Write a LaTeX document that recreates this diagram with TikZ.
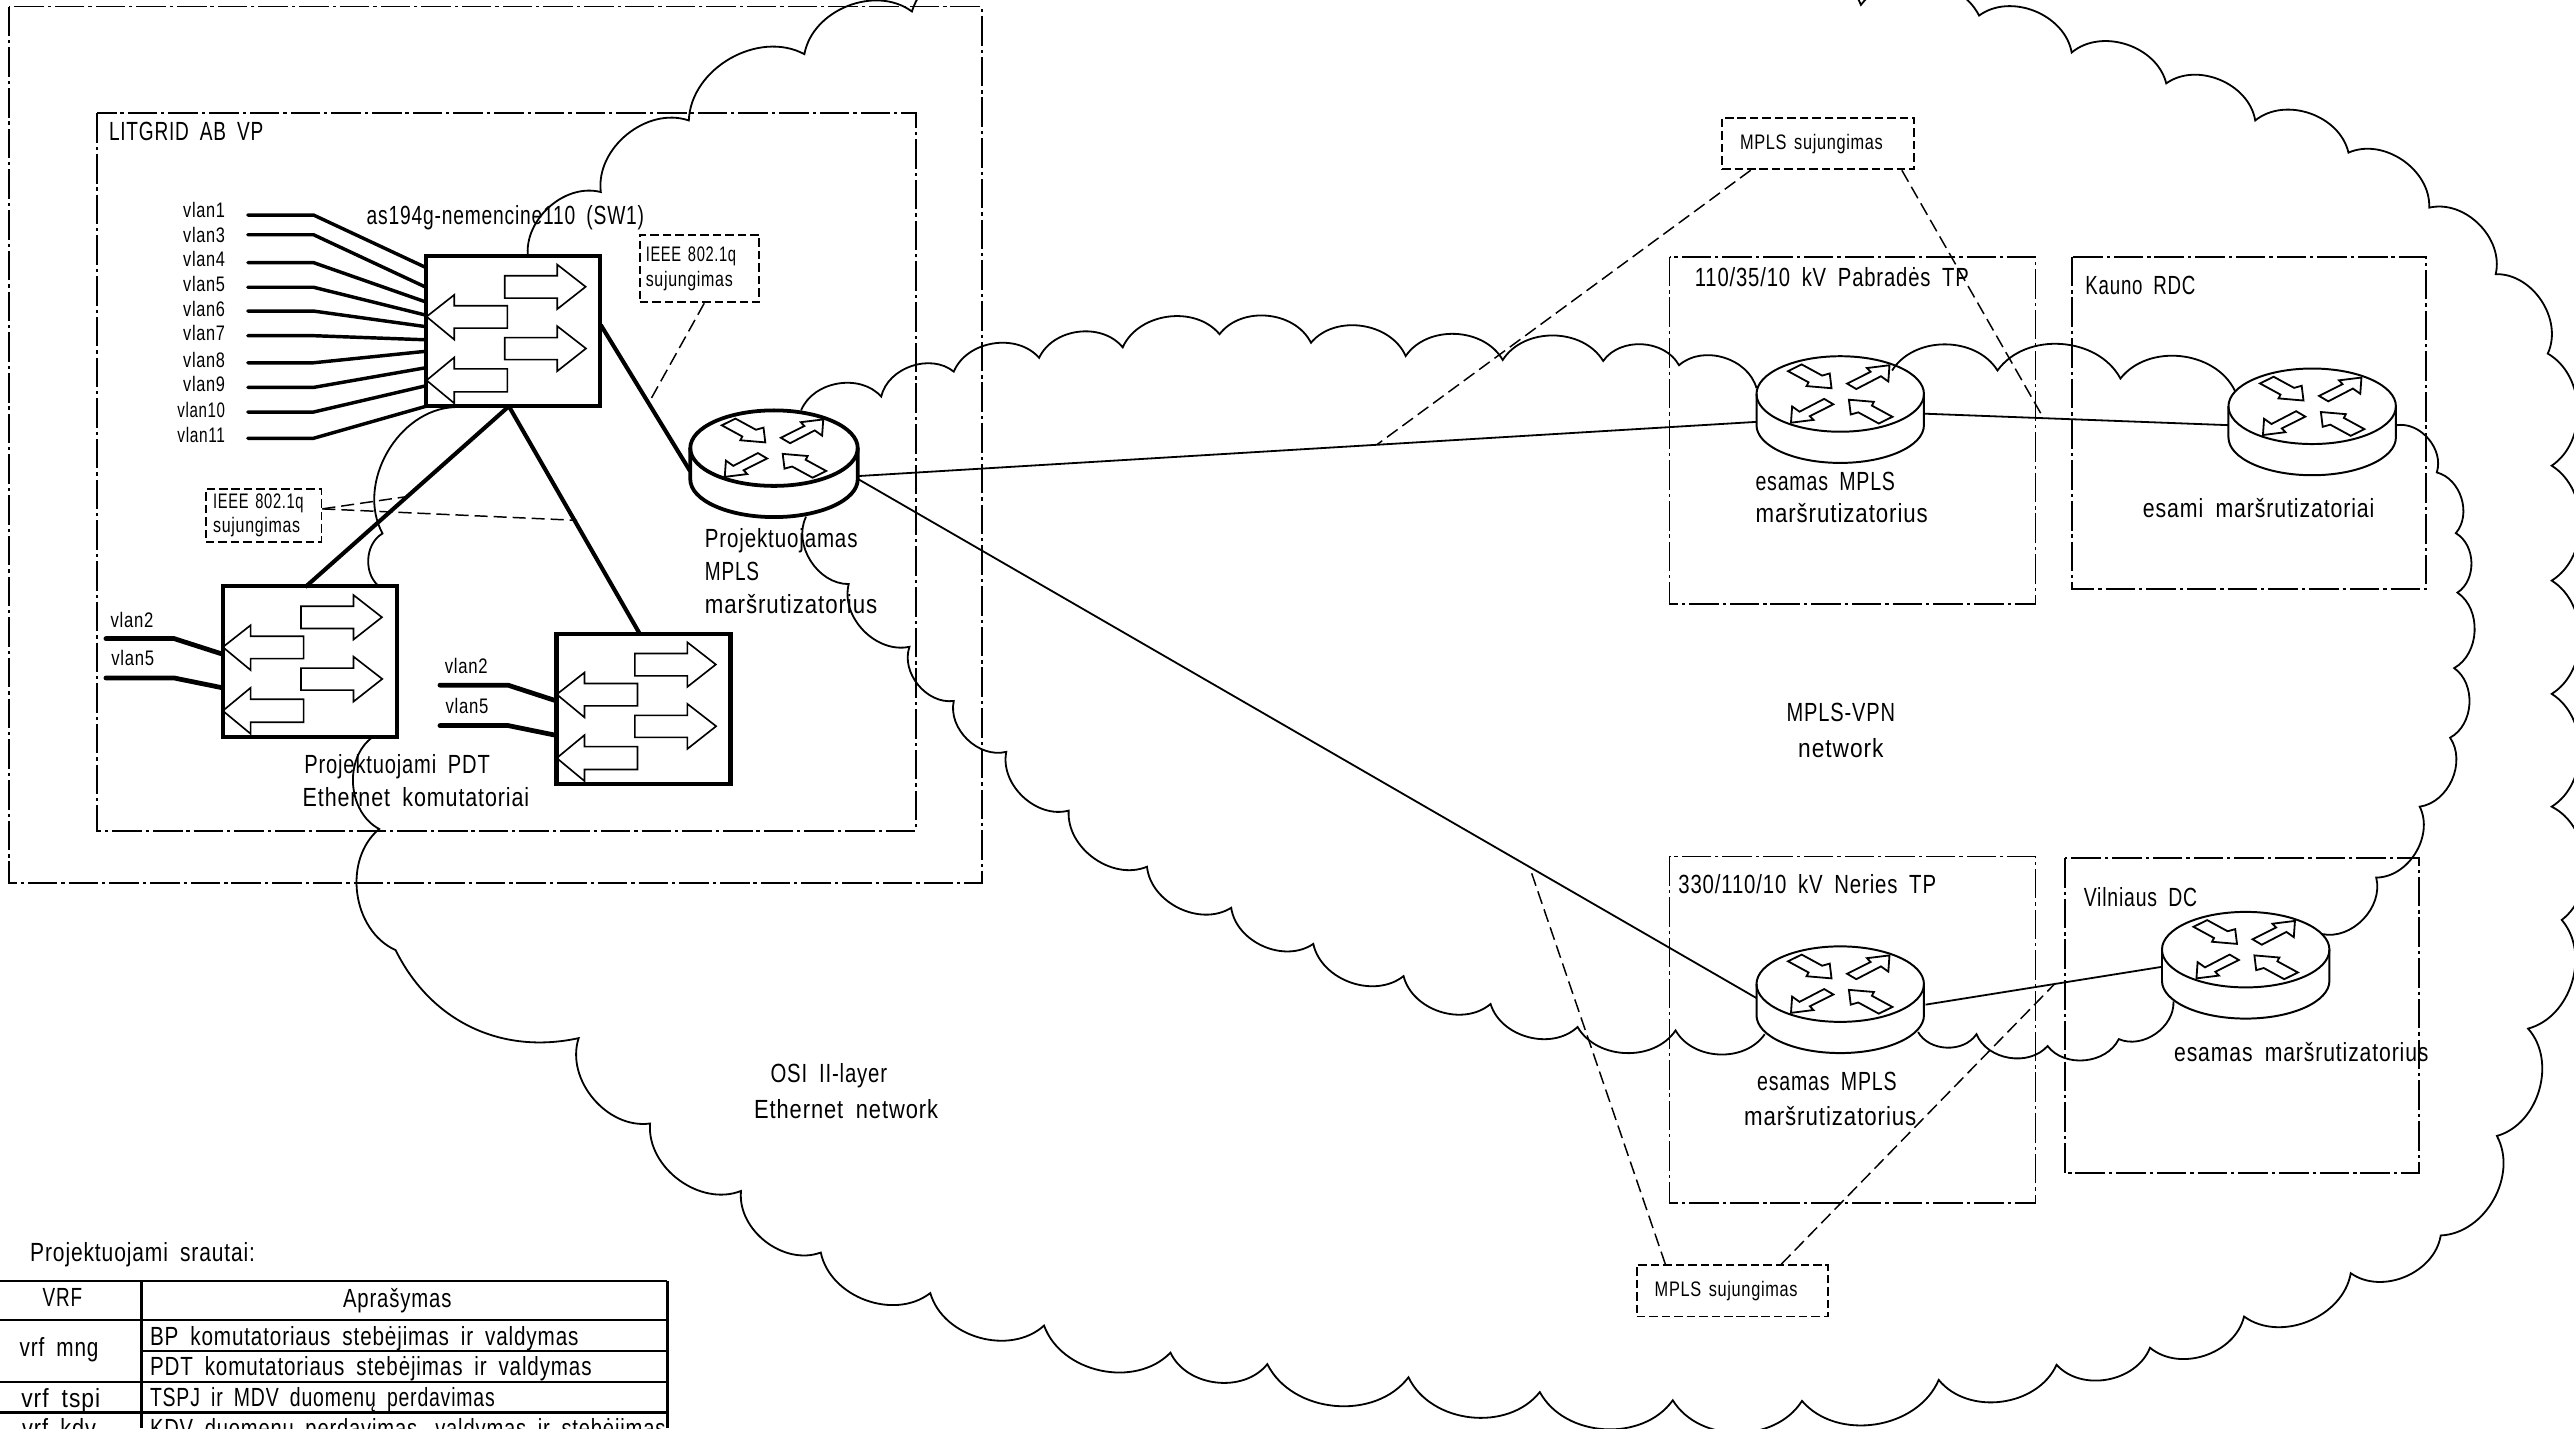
\documentclass[tikz,border=0pt]{standalone}
\usepackage{fontspec}
\usepackage{graphicx}
\setmainfont{Liberation Sans}[FakeStretch=0.72,LetterSpace=3,WordSpace=1.8]
\usetikzlibrary{shapes.geometric}

\newdimen\unitpx
\unitpx=0.5pt
\newcommand{\lblfont}{\fontsize{8}{9}\selectfont}
\newcommand{\smallfont}{\fontsize{6.4}{7.5}\selectfont}
\newcommand{\wtext}[2]{\resizebox{#1\unitpx}{\height}{#2}}
\newcommand{\lab}[6][base west]{\node[inner sep=0pt, anchor=#1] (#2) at (#3,#4+5.5) {\wtext{#5}{#6}};}

\newcommand{\swarrows}[1]{
  \begin{scope}[shift={(#1.north west)}]
    \draw[sarrow] (49,13.3) -- (81,13.3) -- (81,6.5) -- (98.3,20) -- (81,33.6) -- (81,26.9) -- (49,26.9) -- cycle;
    \draw[sarrow] (49,51) -- (81,51) -- (81,44) -- (98.5,57.6) -- (81,71.4) -- (81,64.4) -- (49,64.4) -- cycle;
    \draw[sarrow] (50.6,31.6) -- (18.3,31.6) -- (18.3,24.9) -- (1.4,38.2) -- (18.3,52.2) -- (18.3,45.2) -- (50.6,45.2) -- cycle;
    \draw[sarrow] (50.6,70) -- (18.3,70) -- (18.3,63) -- (1.4,77) -- (18.3,91) -- (18.3,84) -- (50.6,84) -- cycle;
  \end{scope}
}

\newcommand{\router}[4][0.6pt]{
  \begin{scope}[shift={(#3,#4)}]
    \draw[rbody,line width=#1] (-51,0) -- (-51,19) arc[start angle=180,end angle=360,x radius=25.5pt,y radius=11.5pt] -- (51,0);
    \node[rtop,line width=#1] (#2) at (0,0) {};
    \foreach \s in {1,-1} {
      \draw[rarrow] (\s*-31.8,\s*-13.9) -- (\s*-23.5,\s*-18) -- (\s*-11,\s*-11.2) -- (\s*-6.4,\s*-12.5) -- (\s*-5.3,\s*-3.5) -- (\s*-20.5,\s*-4.8) -- (\s*-19.3,\s*-7.1) -- cycle;
      \draw[rarrow] (\s*4.2,\s*-6.3) -- (\s*18.5,\s*-13.5) -- (\s*16.3,\s*-15.8) -- (\s*30,\s*-17.5) -- (\s*29.3,\s*-7.6) -- (\s*24.8,\s*-10.8) -- (\s*9.8,\s*-3) -- cycle;
    }
  \end{scope}
}

\begin{document}
\begin{tikzpicture}[
    x=0.5pt, y=-0.5pt,
    every node/.style={font=\lblfont},
    slbl/.style={inner sep=0pt, font=\smallfont},
    site/.style={line width=0.55pt, dash pattern=on 9pt off 1.2pt on 1pt off 1.2pt},
    cloud/.style={line width=0.55pt},
    bump/.style={bend left=58},
    link/.style={line width=0.55pt},
    trunk/.style={line width=1.25pt},
    vlanline/.style={line width=1.05pt, line cap=round},
    vlanthick/.style={line width=1.45pt, line cap=round},
    leader/.style={line width=0.45pt, dash pattern=on 4pt off 1.8pt},
    callout/.style={draw, line width=0.55pt, dash pattern=on 2.6pt off 1.2pt, inner sep=0pt, font=\smallfont, align=left},
    swbox/.style={draw, fill=white, line width=1.25pt, minimum width=53pt, minimum height=45.75pt, inner sep=0pt},
    sarrow/.style={line width=0.5pt},
    rbody/.style={draw, fill=white},
    rtop/.style={ellipse, draw, minimum width=51pt, minimum height=23pt, inner sep=0pt},
    rarrow/.style={line width=0.55pt, fill=white},
    tline/.style={line width=0.75pt}
]

\clip (0,0) rectangle (1568,870);

\draw[site] (5.4,4) rectangle (598,538);
\draw[site] (59,69) rectangle (558,506);
\draw[site] (1017,156.4) rectangle (1240,367.7);
\draw[site] (1262,156.4) rectangle (1478,359);
\draw[site] (1017,521.7) rectangle (1240,733);
\draw[site] (1258,522.7) rectangle (1473.6,714.8);

\draw[cloud] (322,159) \foreach \a/\b in {366/117,419.6/73.4,490/33,555.5/7,640/-15,750/-30,870/-30,1000/-20,1133.6/3,1205.6/9.5,1262/32,1319.6/50.8,1373.8/73.4,1430.6/93,1479.8/126.5,1520.3/167,1552/215.4,1554.4/283.7,1554.4/353.7,1554.4/422.7,1554.4/491.4,1560.5/560.4,1540/626.6,1521/692,1486.8/752.6,1432/775.6,1367/802,1309.7/821,1252.8/831.4,1181/840.6,1097.7/853.4,1019/853,938/848,858/839,772/831,713/824,636/807.5,566.7/787.7,500/763,451.4/725.5,396/684.4,352.5/632.4} {to[bump] (\a,\b)} to[bend left=38] (241,578.8) \foreach \a/\b in {231/505,227/449} {to[bump] (\a,\b)};
\draw[cloud] (232,358) \foreach \a/\b in {233/325,277/248} {to[bump] (\a,\b)};
\draw[cloud] (488,250) \foreach \a/\b in {536.8/241.6,581/226.4,633/218,683.9/211.6,742.9/203.6,798.6/208.8,856.3/216.9,915.4/219.3,976.6/219.9,1022.8/222.5,1070/236.5} {to[bump] (\a,\b)};
\draw[cloud] (1152.6,225.7) \foreach \a/\b in {1216.8/225.7,1291.7/230.6,1361.4/238} {to[bump] (\a,\b)};
\draw[cloud] (1460,259) \foreach \a/\b in {1484.4/287.8,1496/324.8,1497/361,1495/407,1492.5/449.4,1474/491.4,1447.5/534.6,1414.5/569} {to[bump] (\a,\b)};
\draw[cloud] (1324,610) \foreach \a/\b in {1290.7/633,1247.3/637.2,1204/630,1168.4/628.7} {to[bump] (\a,\b)};
\draw[cloud] (1075,630) \foreach \a/\b in {1020.7/627.7,961/625.6,908/611.6,855/594.6,800/575,750/553,698.7/528,651/493.8,613/458,581/427,554/394,517/355.8,491/314.7} {to[bump] (\a,\b)};

\router[1.15pt]{rproj}{471.5}{273}
\router{rpabrade}{1121}{240}
\router{rkaunas}{1408.5}{247.5}
\router{rneries}{1121}{599.5}
\router{rvilnius}{1368}{578.5}

\coordinate (rprojW) at (420.4,287);
\coordinate (rprojE1) at (523,290);
\coordinate (rprojE2) at (523,292);
\coordinate (rpabradeW) at (1070,257);
\coordinate (rpabradeE) at (1172,252);
\coordinate (rkaunasW) at (1357.6,259);
\coordinate (rneriesW) at (1070,608);
\coordinate (rneriesE) at (1173,612);
\coordinate (rvilniusW) at (1316.7,589);

\node[swbox] (sw1) at (312.7,201.7) {};
\node[swbox] (swa) at (188.6,403) {};
\node[swbox] (swb) at (392,431.8) {};
\swarrows{sw1}
\swarrows{swa}
\swarrows{swb}

\coordinate (sw1b) at (310,247.5);
\coordinate (swat) at (186,357.6);
\coordinate (swbt) at (390,386.6);
\coordinate (sw1e) at (366,198);

\draw[trunk] (sw1e) -- (rprojW);
\draw[trunk] (sw1b) -- (swat);
\draw[trunk] (sw1b) -- (swbt);
\draw[link] (rprojE1) -- (rpabradeW);
\draw[link] (rpabradeE) -- (rkaunasW);
\draw[link] (rprojE2) -- (rneriesW);
\draw[link] (rneriesE) -- (rvilniusW);

\foreach \v/\l/\w/\y/\e in {1/128/25.5/131/163,3/143/25.5/143/175,4/158/25.5/160/184,5/173/25.5/175/192,6/188/25.5/189.5/199,7/203/25.5/204.5/207,8/219/25.5/221/214,9/234/25.5/236/224,10/250/29/251/235,11/265/29/267/247.5} {
  \node[slbl, anchor=east] (vlan\v) at (137.5,\l) {\wtext{\w}{vlan\v}};
  \coordinate (vs\v) at (151,\y);
  \coordinate (ve\v) at (259.5,\e);
  \draw[vlanline] (vs\v) -- (191,\y) -- (ve\v);
}

\foreach \n/\x/\xa/\xb/\xe/\ya/\yb/\ea/\eb in {a/64.5/80.4/106/135.6/389/413/398.5/419,b/268/284/309.5/339/417.4/442/427/448} {
  \node[slbl] (vlan2\n) at (\xa,\ya-11.5) {\wtext{26}{vlan2}};
  \node[slbl] (vlan5\n) at (\xa+0.5,\yb-12) {\wtext{26}{vlan5}};
  \coordinate (vsa\n) at (\x,\ya);
  \coordinate (vsb\n) at (\x,\yb);
  \coordinate (vea\n) at (\xe,\ea);
  \coordinate (veb\n) at (\xe,\eb);
  \draw[vlanthick] (vsa\n) -- (\xb,\ya) -- (vea\n);
  \draw[vlanthick] (vsb\n) -- (\xb,\yb) -- (veb\n);
}

\node[callout, minimum width=36.3pt, minimum height=20.6pt, text width=32.6pt] (ieeeA) at (426,163.6) {\wtext{55}{IEEE 802.1q}\\\wtext{53}{sujungimas}};
\node[callout, minimum width=35.2pt, minimum height=16pt, text width=30.7pt] (ieeeB) at (160.6,314) {\wtext{55}{IEEE 802.1q}\\\wtext{53}{sujungimas}};
\node[callout, minimum width=58.5pt, minimum height=15.7pt, text width=47.5pt] (mplsT) at (1107.5,87.5) {\wtext{87}{MPLS sujungimas}};
\node[callout, minimum width=58.3pt, minimum height=15.7pt, text width=47.3pt] (mplsB) at (1055.3,786.3) {\wtext{87}{MPLS sujungimas}};

\coordinate (tieeeA) at (396,244);
\coordinate (tieeeB1) at (248.6,302.4);
\coordinate (tieeeB2) at (351.6,317);
\coordinate (tmplsT1) at (839,270.7);
\coordinate (tmplsT2) at (1245,255);
\coordinate (tmplsB1) at (932.7,531);
\coordinate (tmplsB2) at (1252,599);

\draw[leader] ([xshift=1.5pt]ieeeA.south) -- (tieeeA);
\draw[leader] ([yshift=2pt]ieeeB.east) -- (tieeeB1);
\draw[leader] ([yshift=2pt]ieeeB.east) -- (tieeeB2);
\draw[leader] ([xshift=9pt]mplsT.south west) -- (tmplsT1);
\draw[leader] ([xshift=-4pt]mplsT.south east) -- (tmplsT2);
\draw[leader] ([xshift=9pt]mplsB.north west) -- (tmplsB1);
\draw[leader] ([xshift=-14.5pt]mplsB.north east) -- (tmplsB2);

\lab{litgrid}{66}{80}{94}{LITGRID AB VP}
\lab{swname}{223}{131}{169}{as194g-nemencine110 (SW1)}
\lab{proj1}{429}{328}{93}{Projektuojamas}
\lab{proj2}{429}{348}{33}{MPLS}
\lab{proj3}{429}{368}{105}{maršrutizatorius}
\lab{pdt1}{185}{466}{113}{Projektuojami PDT}
\lab{pdt2}{184}{486}{138}{Ethernet komutatoriai}
\lab{pabrade}{1032}{169}{167}{110/35/10 kV Pabradės TP}
\lab{kaunas}{1270}{174}{67}{Kauno RDC}
\lab{esa1}{1069}{293}{85}{esamas MPLS}
\lab{esa2}{1069}{313}{105}{maršrutizatorius}
\lab{esami}{1305}{310}{141}{esami maršrutizatoriai}
\lab{mvpn1}{1088}{434}{66}{MPLS-VPN}
\lab{mvpn2}{1095}{456}{52}{network}
\lab{neries}{1022}{539}{157}{330/110/10 kV Neries TP}
\lab{vilnius}{1269}{547}{69}{Vilniaus DC}
\lab{esb1}{1070}{659}{85}{esamas MPLS}
\lab{esb2}{1062}{680}{105}{maršrutizatorius}
\lab{esc}{1324}{641}{155}{esamas maršrutizatorius}
\lab{osi1}{469}{654}{71}{OSI II-layer}
\lab{osi2}{459}{676}{112}{Ethernet network}
\lab{srautai}{18}{763}{137}{Projektuojami srautai:}

\foreach \y in {780.3,804,842,860.5} \draw[tline] (0,\y) -- (406.5,\y);
\draw[tline] (86.2,823) -- (406.5,823);
\draw[tline] (86.2,780.3) -- (86.2,870);
\draw[tline] (406.5,780.3) -- (406.5,870);

\lab[base]{hvrf}{38}{790.5}{24}{VRF}
\lab[base]{haprasymas}{242}{791}{66}{Aprašymas}
\lab[base]{vmng}{36}{821}{48}{vrf mng}
\lab[base]{vtspi}{37}{852}{48}{vrf tspi}
\lab[base]{vkdv}{36}{870}{45}{vrf kdv}
\lab{d1}{91}{814}{261}{BP komutatoriaus stebėjimas ir valdymas}
\lab{d2}{91}{832.5}{269}{PDT komutatoriaus stebėjimas ir valdymas}
\lab{d3}{91}{851}{210}{TSPJ ir MDV duomenų perdavimas}
\lab{d4}{91}{870}{314}{KDV duomenų perdavimas, valdymas ir stebėjimas}

\end{tikzpicture}
\end{document}
